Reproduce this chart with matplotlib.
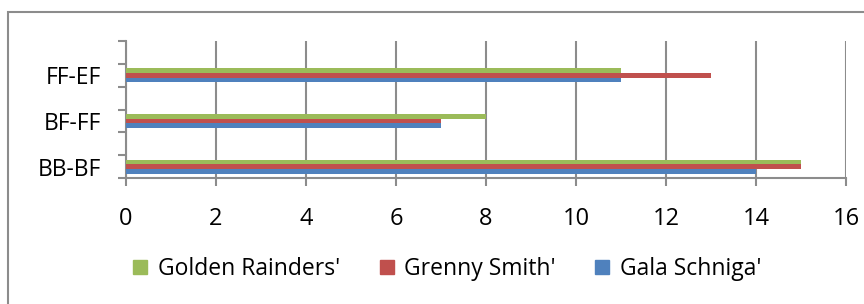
import numpy as np
import matplotlib.pyplot as plt
from matplotlib.patches import Rectangle
from matplotlib.lines import Line2D

# === DATA ===
categories = ['BB-BF', 'BF-FF', 'FF-EF']
gala = [14, 7, 11]
grenny = [15, 7, 13]
golden = [15, 8, 11]
xticks = [0, 2, 4, 6, 8, 10, 12, 14, 16]

plt.rcParams['font.family'] = ['Open Sans', 'DejaVu Sans']

fig = plt.figure(figsize=(8.64, 3.04), dpi=100)
ax = fig.add_axes([126 / 864, 1 - 178 / 304, 720 / 864, 137 / 304])

# outer chart border (top and left visible, rest runs off the image)
fig.patches.append(Rectangle((8 / 864, -0.1), 1.2, (304 - 12) / 304 + 0.1,
                             transform=fig.transFigure, fill=False,
                             edgecolor='#8c8c8c', linewidth=1.5))

pos = np.array([0.5, 2.5, 4.5])
h = 0.205
ax.barh(pos - h, gala, height=h, color='#4F81BD', label="Gala Schniga'", zorder=3)
ax.barh(pos, grenny, height=h, color='#C0504D', label="Grenny Smith'", zorder=3)
ax.barh(pos + h, golden, height=h, color='#9BBB59', label="Golden Rainders'", zorder=3)

ax.set_xlim(0, 16)
ax.set_ylim(0, 6)
ax.set_xticks(xticks)
ax.set_xticklabels([str(t) for t in xticks], fontsize=17)
ax.set_yticks(range(7))
ax.set_yticklabels([])
ax.set_yticks(pos, minor=True)
ax.set_yticklabels(categories, minor=True, fontsize=16.5)
ax.tick_params(axis='y', which='minor', length=0, pad=18)
ax.tick_params(axis='y', which='major', length=6, color='#8c8c8c', width=1.5)
ax.tick_params(axis='x', length=6, color='#8c8c8c', width=1.5, pad=15)

ax.grid(axis='x', color='#8c8c8c', linewidth=1.5, zorder=0)
for s in ['top', 'right']:
    ax.spines[s].set_visible(False)
for s in ['left', 'bottom']:
    ax.spines[s].set_color('#8c8c8c')
    ax.spines[s].set_linewidth(1.5)

# legend in reverse order with square keys
leg_handles = [Line2D([], [], marker='s', markersize=10.5, linestyle='none', color=c)
               for c in ['#9BBB59', '#C0504D', '#4F81BD']]
leg_labels = ["Golden Rainders'", "Grenny Smith'", "Gala Schniga'"]
fig.legend(leg_handles, leg_labels, loc='center', bbox_to_anchor=(0.517, 1 - 269 / 304),
           ncol=3, frameon=False, fontsize=16.5, handlelength=0.7,
           handletextpad=0.4, columnspacing=1.7, borderpad=0)

fig.savefig('out.png', dpi=100)
